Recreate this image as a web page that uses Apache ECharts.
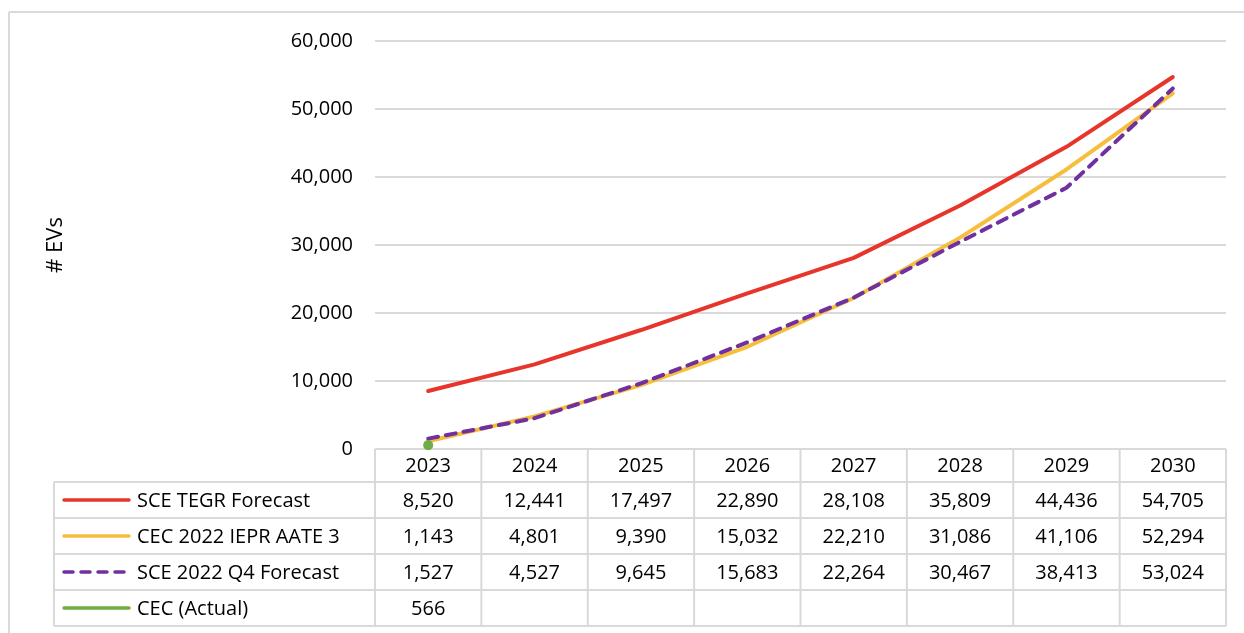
<!DOCTYPE html>
<html>
<head>
<meta charset="utf-8">
<script src="https://cdn.jsdelivr.net/npm/echarts@6/dist/echarts.min.js"></script>
<style>
  html, body { margin: 0; padding: 0; background: #fff; }
  #chart { width: 1244px; height: 633px; }
</style>
</head>
<body>
<div id="chart"></div>
<script>
// EV adoption forecasts by year
const years = ['2023', '2024', '2025', '2026', '2027', '2028', '2029', '2030'];
const sceTegr = [8520, 12441, 17497, 22890, 28108, 35809, 44436, 54705];
const cecIepr = [1143, 4801, 9390, 15032, 22210, 31086, 41106, 52294];
const sceQ4 = [1527, 4527, 9645, 15683, 22264, 30467, 38413, 53024];
const cecActual = [566, null, null, null, null, null, null, null];

const seriesNames = ['SCE TEGR Forecast', 'CEC 2022 IEPR AATE 3', 'SCE 2022 Q4 Forecast', 'CEC (Actual)'];
const seriesData = [sceTegr, cecIepr, sceQ4, cecActual];
const seriesColors = ['#E8352B', '#F6BE3C', '#7030A0', '#70AD47'];
const seriesDash = ['solid', 'solid', [10, 8], 'solid'];

const W = 1244, H = 633;
const FONT = '"Open Sans", Lato, sans-serif';
const FS = 20;
const grid = { left: 375, right: 18, top: 41, bottom: 184 };
const plotW = W - grid.left - grid.right;
const colW = plotW / years.length;
const tableTop = H - grid.bottom;
const headH = 33, rowH = 36;
const legendLeft = 54;
const borderColor = '#d9d9d9';

const fmt = v => (v == null ? '' : v.toLocaleString('en-US'));

// Data table under the plot: header of years, then one row per series
const graphics = [];
// outer frame (top and left edges)
graphics.push({ type: 'line', shape: { x1: 9, y1: 12, x2: W, y2: 12 }, style: { stroke: borderColor, lineWidth: 2 } });
graphics.push({ type: 'line', shape: { x1: 9, y1: 12, x2: 9, y2: H }, style: { stroke: borderColor, lineWidth: 2 } });

const tableRight = grid.left + plotW;
const rowsTop = tableTop + headH;
const tableBottom = rowsTop + rowH * seriesNames.length;
// horizontal rules
graphics.push({ type: 'line', shape: { x1: grid.left, y1: tableTop, x2: tableRight, y2: tableTop }, style: { stroke: borderColor, lineWidth: 2 } });
for (let r = 0; r <= seriesNames.length; r++) {
  const y = rowsTop + r * rowH;
  graphics.push({ type: 'line', shape: { x1: legendLeft, y1: y, x2: tableRight, y2: y }, style: { stroke: borderColor, lineWidth: 2 } });
}
// vertical rules
graphics.push({ type: 'line', shape: { x1: legendLeft, y1: rowsTop, x2: legendLeft, y2: tableBottom }, style: { stroke: borderColor, lineWidth: 2 } });
for (let c = 0; c <= years.length; c++) {
  const x = grid.left + c * colW;
  graphics.push({ type: 'line', shape: { x1: x, y1: tableTop, x2: x, y2: tableBottom }, style: { stroke: borderColor, lineWidth: 2 } });
}
// header years
years.forEach((yr, c) => {
  graphics.push({ type: 'text', x: grid.left + (c + 0.5) * colW, y: tableTop + headH / 2 + 1,
    style: { text: yr, font: FS + 'px ' + FONT, fill: '#000', align: 'center', verticalAlign: 'middle' } });
});
// series rows
seriesNames.forEach((name, r) => {
  const yMid = rowsTop + r * rowH + rowH / 2;
  graphics.push({ type: 'line', shape: { x1: legendLeft + 10, y1: yMid, x2: legendLeft + 75, y2: yMid },
    style: { stroke: seriesColors[r], lineWidth: 3.5, lineCap: 'round',
      lineDash: seriesDash[r] === 'solid' ? null : [9, 8] } });
  graphics.push({ type: 'text', x: legendLeft + 83, y: yMid + 1,
    style: { text: name, font: FS + 'px ' + FONT, fill: '#000', align: 'left', verticalAlign: 'middle' } });
  seriesData[r].forEach((v, c) => {
    graphics.push({ type: 'text', x: grid.left + (c + 0.5) * colW, y: yMid + 1,
      style: { text: fmt(v), font: FS + 'px ' + FONT, fill: '#000', align: 'center', verticalAlign: 'middle' } });
  });
});

const chart = echarts.init(document.getElementById('chart'), null, { renderer: 'canvas' });
chart.setOption({
  animation: false,
  backgroundColor: '#fff',
  grid: { left: grid.left, right: grid.right, top: grid.top, bottom: grid.bottom, containLabel: false },
  xAxis: {
    type: 'category',
    data: years,
    boundaryGap: true,
    axisLine: { show: false },
    axisTick: { show: false },
    axisLabel: { show: false },
    splitLine: { show: false }
  },
  yAxis: {
    type: 'value',
    min: 0,
    max: 60000,
    interval: 10000,
    name: '# EVs',
    nameLocation: 'middle',
    nameRotate: 90,
    nameGap: 308,
    nameTextStyle: { fontFamily: FONT, fontSize: 22, color: '#000' },
    axisLine: { show: false },
    axisTick: { show: false },
    axisLabel: {
      margin: 22,
      fontFamily: FONT,
      fontSize: FS,
      color: '#000',
      formatter: v => v.toLocaleString('en-US')
    },
    splitLine: { lineStyle: { color: borderColor, width: 2 } }
  },
  series: seriesNames.map((name, i) => ({
    name,
    type: 'line',
    data: seriesData[i],
    symbol: 'circle',
    symbolSize: 10,
    showSymbol: i === 3,
    itemStyle: { color: seriesColors[i] },
    lineStyle: { color: seriesColors[i], width: 4, type: seriesDash[i], cap: 'round' },
    z: [3, 2, 4, 5][i]
  })),
  graphic: graphics
});
</script>
</body>
</html>
